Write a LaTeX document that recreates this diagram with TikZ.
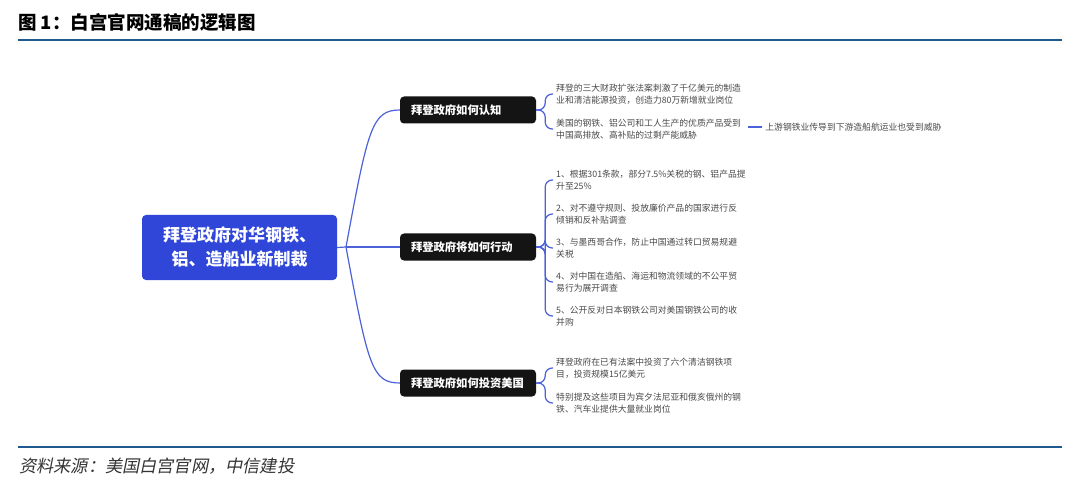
\documentclass[tikz,border=0pt]{standalone}
\usepackage{fontspec}
\setmainfont{Noto Sans CJK SC}
\newfontfamily\srcfont[FakeSlant=0.2]{Noto Sans CJK SC}
\usetikzlibrary{positioning}
\definecolor{rootblue}{HTML}{2F46D8}
\definecolor{linkblue}{HTML}{4C62DA}
\definecolor{rulenavy}{HTML}{1E5A8E}
\definecolor{leafgray}{HTML}{4A4A4A}
\tikzset{
  root/.style={fill=rootblue,text=white,rounded corners=4pt,minimum width=195pt,minimum height=65pt,align=center,font=\fontsize{17}{24}\selectfont\bfseries},
  branch/.style={fill=black!92,text=white,rounded corners=4pt,minimum height=27pt,inner xsep=11pt,text width=114pt,align=left,font=\fontsize{11.3}{13}\selectfont\bfseries},
  leaf/.style={anchor=west,align=left,inner xsep=3pt,inner ysep=0pt,text=leafgray,font=\fontsize{8.8}{12.5}\selectfont},
  link/.style={draw=linkblue,line width=1.2pt,rounded corners=7pt},
  rulebar/.style={draw=rulenavy,line width=2pt},
}
\begin{document}
\begin{tikzpicture}[x=1pt,y=-1pt]
  \useasboundingbox[fill=white] (0,0) rectangle (1080,492);
  % header and footer
  \node[anchor=west,inner sep=0pt,font=\fontsize{18.5}{20}\selectfont\bfseries] (title) at (18,22) {图 1：白宫官网通稿的逻辑图};
  \draw[rulebar] (18,40) -- (1062,40);
  \draw[rulebar] (18,447) -- (1062,447);
  \node[anchor=west,inner sep=0pt,text=black!80,font=\fontsize{17.2}{19}\selectfont\srcfont] (src) at (19,466) {资料来源：美国白宫官网，中信建投};
  % root and branches
  \node[root] (root) at (239.5,247.5) {拜登政府对华钢铁、\\铝、造船业新制裁};
  \coordinate (hub) at (346,247);
  \node[branch] (b1) at (468,110) {拜登政府如何认知};
  \node[branch] (b2) at (468,247) {拜登政府将如何行动};
  \node[branch] (b3) at (468,383) {拜登政府如何投资美国};
  \draw[link] (root.east) -- (hub);
  \draw[link] (hub) .. controls (368,128) and (372,110) .. (b1.west);
  \draw[link] (hub) -- (b2.west);
  \draw[link] (hub) .. controls (368,366) and (372,383) .. (b3.west);
  % leaves
  \node[leaf] (k1a) at (553,94) {拜登的三大财政扩张法案刺激了千亿美元的制造\\业和清洁能源投资，创造力80万新增就业岗位};
  \node[leaf] (k1b) at (553,129) {美国的钢铁、铝公司和工人生产的优质产品受到\\中国高排放、高补贴的过剩产能威胁};
  \node[leaf,right=18pt of k1b.east,yshift=2pt] (k1x) {上游钢铁业传导到下游造船航运业也受到威胁};
  \node[leaf] (k2a) at (553,180) {1、根据301条款，部分7.5\%关税的钢、铝产品提\\升至25\%};
  \node[leaf] (k2b) at (553,214) {2、对不遵守规则、投放廉价产品的国家进行反\\倾销和反补贴调查};
  \node[leaf] (k2c) at (553,248) {3、与墨西哥合作，防止中国通过转口贸易规避\\关税};
  \node[leaf] (k2d) at (553,282) {4、对中国在造船、海运和物流领域的不公平贸\\易行为展开调查};
  \node[leaf] (k2e) at (553,316) {5、公开反对日本钢铁公司对美国钢铁公司的收\\并购};
  \node[leaf] (k3a) at (553,368) {拜登政府在已有法案中投资了六个清洁钢铁项\\目，投资规模15亿美元};
  \node[leaf] (k3b) at (553,403) {特别提及这些项目为宾夕法尼亚和俄亥俄州的钢\\铁、汽车业提供大量就业岗位};
  \foreach \k in {k1a,k1b} \draw[link] (b1.east) -- ++(9,0) |- (\k.west);
  \foreach \k in {k2a,k2b,k2c,k2d,k2e} \draw[link] (b2.east) -- ++(9,0) |- (\k.west);
  \foreach \k in {k3a,k3b} \draw[link] (b3.east) -- ++(9,0) |- (\k.west);
  \draw[link] ([xshift=4pt,yshift=2pt]k1b.east) -- (k1x.west);
\end{tikzpicture}
\end{document}
